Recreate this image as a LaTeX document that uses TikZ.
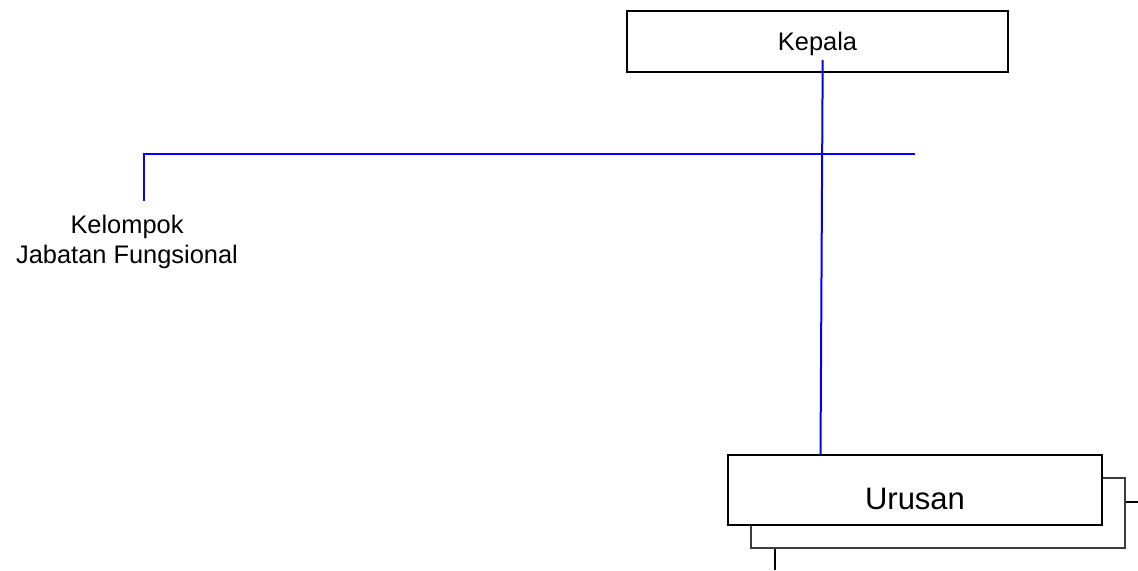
\documentclass[tikz,border=0pt]{standalone}
\usepackage{fontspec}
\setmainfont{Liberation Sans}
\usepackage{tikz}
\definecolor{linkblue}{RGB}{0, 0, 255}
\definecolor{backline}{RGB}{60, 60, 60}

\begin{document}
\begin{tikzpicture}[
    x=0.5pt, y=-0.5pt,
    unit/.style={draw, fill=white, line width=1pt, inner sep=0pt, align=center},
    smalltext/.style={font=\fontsize{12.7}{15}\selectfont},
    link/.style={draw=linkblue, line width=1pt},
    tail/.style={draw=black, line width=1pt}
]
    \useasboundingbox (0,0) rectangle (1138,570);

    % Main entities
    \node[unit, smalltext, minimum width=190.5pt, minimum height=30.5pt, text depth=0pt] (kepala) at (817.5,41.5) {Kepala};
    \node[unit, draw=backline, line width=0.75pt, minimum width=187pt, minimum height=35pt] (urusanback) at (938,513) {};
    \node[unit, minimum width=187pt, minimum height=35pt, text height=19.4pt, text depth=0pt,
          font=\fontsize{15.5}{18}\selectfont] (urusan) at (915,490) {Urusan};
    \node[smalltext, anchor=north, inner sep=7pt, align=center] (fungsional) at (127,201) {Kelompok\\Jabatan Fungsional};

    % Branch points and free ends
    \coordinate (kepalaout) at ([shift={(5.2,18.5)}]kepala.center);
    \coordinate (urusanin) at ([shift={(-94.5,0)}]urusan.north);
    \coordinate (branchL) at (144,154);
    \coordinate (branchR) at (915,154);
    \coordinate (rightout) at (1138,501.7);
    \coordinate (downout) at (774.7,570);

    % Relationships
    \draw[link] (kepalaout) -- (urusanin);
    \draw[link] (branchR) -- (branchL) -- (branchL |- fungsional.north);
    \draw[tail] (rightout -| urusanback.east) -- (rightout);
    \draw[tail] (urusanback.south -| downout) -- (downout);

\end{tikzpicture}
\end{document}
